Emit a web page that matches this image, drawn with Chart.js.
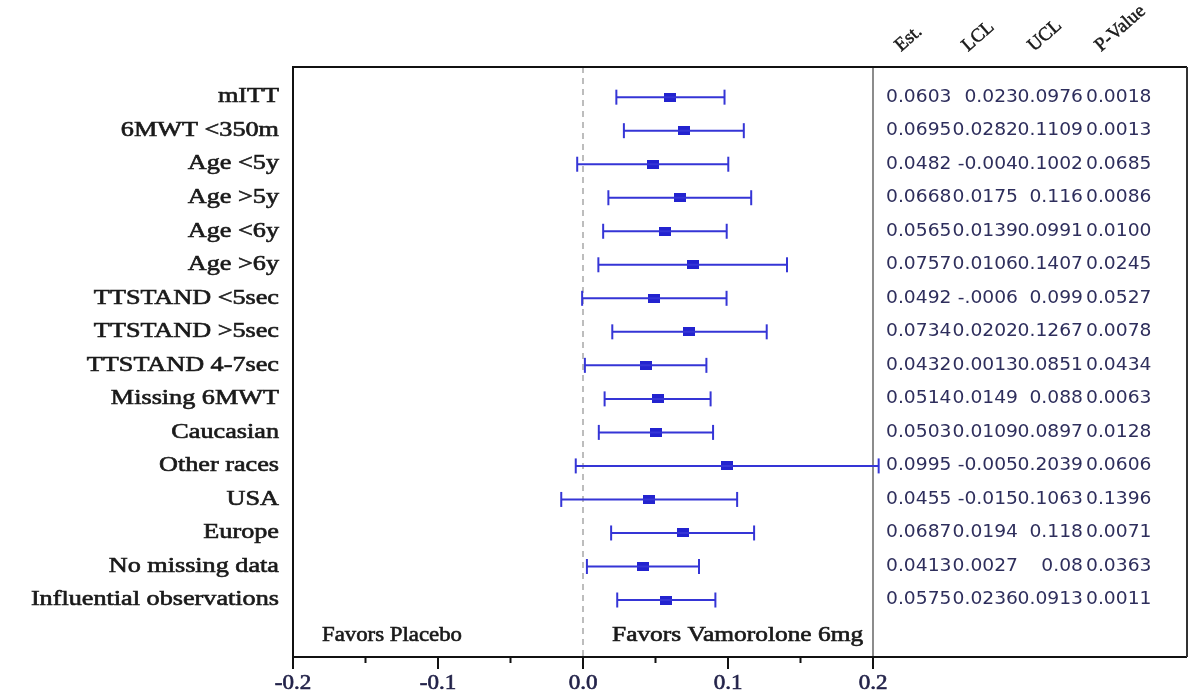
<!DOCTYPE html>
<html>
<head>
<meta charset="utf-8">
<script src="https://cdn.jsdelivr.net/npm/chart.js@4.4.1/dist/chart.umd.min.js"></script>
<style>
  body { margin: 0; background: #fff; }
  #wrap { width: 1190px; height: 697px; }
</style>
</head>
<body>
<div id="wrap"><canvas id="forest" width="1190" height="697"></canvas></div>
<script>
// subgroups, top to bottom
const labels = ["mITT", "6MWT <350m", "Age <5y", "Age >5y", "Age <6y", "Age >6y",
  "TTSTAND <5sec", "TTSTAND >5sec", "TTSTAND 4-7sec", "Missing 6MWT", "Caucasian",
  "Other races", "USA", "Europe", "No missing data", "Influential observations"];

// values as printed in the table on the right
const est = ["0.0603", "0.0695", "0.0482", "0.0668", "0.0565", "0.0757", "0.0492", "0.0734",
  "0.0432", "0.0514", "0.0503", "0.0995", "0.0455", "0.0687", "0.0413", "0.0575"];
const lcl = ["0.023", "0.0282", "-0.004", "0.0175", "0.0139", "0.0106", "-.0006", "0.0202",
  "0.0013", "0.0149", "0.0109", "-0.005", "-0.015", "0.0194", "0.0027", "0.0236"];
const ucl = ["0.0976", "0.1109", "0.1002", "0.116", "0.0991", "0.1407", "0.099", "0.1267",
  "0.0851", "0.088", "0.0897", "0.2039", "0.1063", "0.118", "0.08", "0.0913"];
const pval = ["0.0018", "0.0013", "0.0685", "0.0086", "0.0100", "0.0245", "0.0527", "0.0078",
  "0.0434", "0.0063", "0.0128", "0.0606", "0.1396", "0.0071", "0.0363", "0.0011"];

const headers = ["Est.", "LCL", "UCL", "P-Value"];
const xTicks = [-0.2, -0.15, -0.1, -0.05, 0, 0.05, 0.1, 0.15, 0.2];
const xTickLabels = ["-0.2", "", "-0.1", "", "0.0", "", "0.1", "", "0.2"];

const blue = "#3535d6";
const serif = "'Liberation Serif', 'Times New Roman', serif";
const sans = "'DejaVu Sans', Verdana, sans-serif";

// little filled rectangle used as the estimate marker
const marker = document.createElement("canvas");
marker.width = 12;
marker.height = 9;
const mctx = marker.getContext("2d");
mctx.fillStyle = "#2323cf";
mctx.fillRect(0, 0, 12, 9);

const datasets = labels.map((l, i) => ({
  data: [{ x: parseFloat(lcl[i]), y: i }, { x: parseFloat(ucl[i]), y: i }],
  showLine: true,
  borderColor: blue,
  borderWidth: 2,
  pointStyle: "line",
  rotation: 90,
  pointRadius: 7.5,
  pointBorderWidth: 2,
  pointBorderColor: blue,
  clip: false
}));
datasets.push({
  data: est.map((v, i) => ({ x: parseFloat(v), y: i })),
  pointStyle: marker,
  clip: false
});

// stretched, slightly thickened text, like the original export
function txt(ctx, s, x, y, align, sx, thick) {
  ctx.save();
  ctx.translate(x, y);
  ctx.scale(sx, 1);
  ctx.textAlign = align;
  ctx.fillText(s, 0, 0);
  if (thick) {
    ctx.lineWidth = thick;
    ctx.strokeStyle = ctx.fillStyle;
    ctx.strokeText(s, 0, 0);
  }
  ctx.restore();
}

const decor = {
  id: "decor",
  beforeDatasetsDraw(chart) {
    const { ctx, chartArea: a, scales: { x } } = chart;
    const right = 1187;
    ctx.save();
    // zero reference
    ctx.strokeStyle = "#bdbdbd";
    ctx.lineWidth = 2;
    ctx.setLineDash([6, 5]);
    const x0 = x.getPixelForValue(0);
    ctx.beginPath(); ctx.moveTo(x0, a.top); ctx.lineTo(x0, a.bottom); ctx.stroke();
    ctx.setLineDash([]);
    // divider between plot and table
    ctx.strokeStyle = "#8c8c8c";
    ctx.beginPath(); ctx.moveTo(a.right, a.top); ctx.lineTo(a.right, a.bottom); ctx.stroke();
    // frame
    ctx.strokeStyle = "#111";
    ctx.beginPath();
    ctx.moveTo(a.left, a.bottom); ctx.lineTo(a.left, a.top); ctx.lineTo(right, a.top);
    ctx.moveTo(a.left, a.bottom); ctx.lineTo(right, a.bottom);
    ctx.stroke();
    ctx.strokeStyle = "#333";
    ctx.beginPath(); ctx.moveTo(right, a.top); ctx.lineTo(right, a.bottom); ctx.stroke();
    ctx.restore();
  },
  afterDraw(chart) {
    const { ctx, chartArea: a, scales: { x, y } } = chart;
    ctx.save();
    ctx.textBaseline = "middle";

    // x axis ticks
    ctx.lineWidth = 2;
    ctx.font = "20px " + serif;
    xTicks.forEach((v, k) => {
      const px = x.getPixelForValue(v);
      const len = xTickLabels[k] ? 12 : 6;
      ctx.strokeStyle = "#111";
      ctx.lineWidth = 2;
      ctx.beginPath(); ctx.moveTo(px, a.bottom); ctx.lineTo(px, a.bottom + len); ctx.stroke();
      ctx.fillStyle = "#23234a";
      if (xTickLabels[k]) txt(ctx, xTickLabels[k], px, a.bottom + 27, "center", 1.15, 0.6);
    });

    // row labels
    ctx.fillStyle = "#1a1a1a";
    ctx.font = "20px " + serif;
    labels.forEach((l, i) => txt(ctx, l, a.left - 14, y.getPixelForValue(i), "right", 1.31, 0.6));

    // favours
    const yf = y.getPixelForValue(16.07);
    txt(ctx, "Favors Placebo", 322, yf, "left", 1.14, 0.6);
    txt(ctx, "Favors Vamorolone 6mg", 612, yf, "left", 1.27, 0.6);

    // table values
    ctx.fillStyle = "#2e2e5c";
    ctx.font = "17px " + sans;
    labels.forEach((l, i) => {
      const py = y.getPixelForValue(i);
      txt(ctx, est[i], 886, py, "left", 1.1);
      txt(ctx, lcl[i], 1018, py, "right", 1.1);
      txt(ctx, ucl[i], 1083, py, "right", 1.1);
      txt(ctx, pval[i], 1086, py, "left", 1.1);
    });

    // rotated column headers
    ctx.fillStyle = "#1a1a1a";
    ctx.font = "19px " + serif;
    ctx.textBaseline = "alphabetic";
    const hx = [901, 968, 1034, 1101];
    headers.forEach((h, k) => {
      ctx.save();
      ctx.translate(hx[k], 52);
      ctx.rotate(-0.72);
      ctx.textAlign = "left";
      ctx.fillText(h, 0, 0);
      ctx.lineWidth = 0.5;
      ctx.strokeStyle = ctx.fillStyle;
      ctx.strokeText(h, 0, 0);
      ctx.restore();
    });
    ctx.restore();
  }
};

new Chart(document.getElementById("forest"), {
  type: "scatter",
  data: { datasets: datasets },
  options: {
    responsive: false,
    animation: false,
    layout: { padding: { left: 293, right: 317, top: 67, bottom: 40 } },
    scales: {
      x: { type: "linear", min: -0.2, max: 0.2, display: false },
      y: { type: "linear", min: -0.9, max: 16.7, reverse: true, display: false }
    },
    plugins: { legend: { display: false }, tooltip: { enabled: false } }
  },
  plugins: [decor]
});
</script>
</body>
</html>
